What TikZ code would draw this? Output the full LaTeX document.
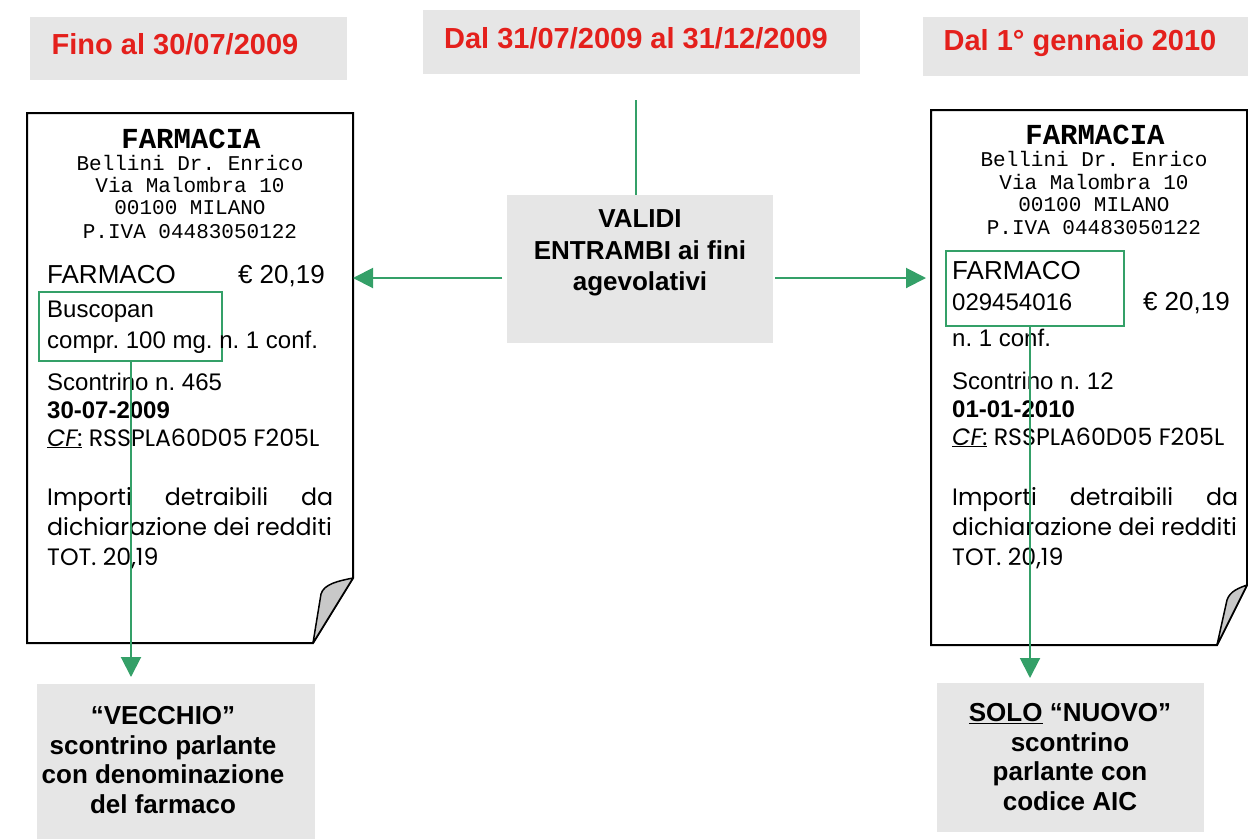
\documentclass[tikz,border=0pt]{standalone}
\usepackage{fontspec}
\setmainfont{Liberation Sans}
\newfontfamily\monof{Liberation Mono}
\newfontfamily\gothf{Poppins}
\usetikzlibrary{arrows.meta}
\definecolor{boxgray}{RGB}{230,230,230}
\definecolor{flapgray}{RGB}{200,200,200}
\definecolor{arrgreen}{RGB}{52,160,104}
\definecolor{hdrred}{RGB}{228,32,28}
\newcommand{\fsz}[2]{\fontsize{#1}{#2}\selectfont}
\frenchspacing
\begin{document}
\begin{tikzpicture}[x=1pt,y=-1pt,
  greybox/.style={fill=boxgray, draw=none, inner sep=0, anchor=north west},
  hdr/.style={font=\fsz{29}{34}\bfseries, text=hdrred, anchor=base, inner sep=0},
  btxt/.style={font=\fsz{26}{29.5}\bfseries, align=center, inner sep=0},
  rt/.style={anchor=base west, inner sep=0, font=\fsz{24}{28}},
  mono/.style={anchor=base, inner sep=0, font=\monof\fsz{21}{24}},
  monob/.style={anchor=base, inner sep=0, font=\monof\bfseries\fsz{29}{32}},
  goth/.style={anchor=base west, inner sep=0, font=\gothf\fsz{23.7}{28}},
  gbox/.style={draw=arrgreen, line width=1.5pt, inner sep=0, anchor=north west},
  gline/.style={draw=arrgreen, line width=2pt},
  garr/.style={draw=arrgreen, line width=2pt, -{Triangle[length=20pt,width=20pt]}, fill=arrgreen},
  sheet/.style={draw=black, line width=2pt, fill=white, line join=miter},
  flap/.style={draw=black, line width=1.5pt, fill=flapgray, line join=round}]
\useasboundingbox (0,0) rectangle (1248,839);

% ---- headers ----
\node[greybox, minimum width=317, minimum height=63] (h1) at (30,17) {};
\node[greybox, minimum width=437, minimum height=64] (h2) at (423,10) {};
\node[greybox, minimum width=325, minimum height=59] (h3) at (923,17) {};
\node[hdr] (h1t) at (175,54) {Fino al 30/07/2009};
\node[hdr] (h2t) at (636,48) {Dal 31/07/2009 al 31/12/2009};
\node[hdr] (h3t) at (1080,50) {Dal 1° gennaio 2010};

% ---- central box ----
\node[greybox, minimum width=266, minimum height=148] (valid) at (507,195) {};
\node[btxt, font=\fsz{26}{31.5}\bfseries] (validt) at (640,253) {VALIDI\\ENTRAMBI ai fini\\agevolativi};
\coordinate (vtop) at (636,100);
\draw[gline] (vtop) -- (vtop |- valid.north);

% ---- left receipt ----
\draw[sheet] (27,113) -- (353,113) -- (353,578) -- (313,643) -- (27,643) -- cycle;
\draw[flap] (313,643) -- (321,594) .. controls (324,584) and (338,581) .. (353,578) -- cycle;
\coordinate (recL) at (353,278);
\node[monob] (l1) at (191,148) {FARMACIA};
\node[mono] (l2) at (190,170) {Bellini Dr. Enrico};
\node[mono] (l3) at (190,192) {Via Malombra 10};
\node[mono] (l4) at (190,214) {00100 MILANO};
\node[mono] (l5) at (190,238) {P.IVA 04483050122};
\node[rt, font=\fsz{26}{30}] (l6) at (47,283) {FARMACO};
\node[rt, font=\fsz{26}{30}, anchor=base east] (l7) at (325,283) {€ 20,19};
\node[gbox, minimum width=183, minimum height=69] (busco) at (38,291) {};
\node[rt] (l8) at (47,317) {Buscopan};
\node[rt] (l9) at (47,348) {compr. 100 mg. n. 1 conf.};
\node[rt] (l10) at (47,390) {Scontrino n. 465};
\node[rt, font=\fsz{24}{28}\bfseries] (l11) at (47,418) {30-07-2009};
\node[goth] (l12) at (47,446) {\underline{{\itshape CF}:} RSSPLA60D05 F205L};
\node[goth] (l13) at (47,505) {\makebox[286pt][s]{Importi\hfill detraibili\hfill da}};
\node[goth] (l14) at (47,535) {dichiarazione dei redditi};
\node[goth] (l15) at (47,565) {TOT. 20,19};

% ---- right receipt ----
\draw[sheet] (931,110) -- (1247,110) -- (1247,585) -- (1217,645) -- (931,645) -- cycle;
\draw[flap] (1217,645) -- (1227,600) .. controls (1230,591) and (1239,588) .. (1247,585) -- cycle;
\coordinate (recR) at (926,278);
\node[monob] (r1) at (1095,144) {FARMACIA};
\node[mono] (r2) at (1094,166) {Bellini Dr. Enrico};
\node[mono] (r3) at (1094,189) {Via Malombra 10};
\node[mono] (r4) at (1094,211) {00100 MILANO};
\node[mono] (r5) at (1094,234) {P.IVA 04483050122};
\node[gbox, minimum width=178, minimum height=75] (aic) at (945,250) {};
\node[rt, font=\fsz{26}{30}] (r6) at (952,279) {FARMACO};
\node[rt] (r7) at (952,310) {029454016};
\node[rt, font=\fsz{26}{30}, anchor=base east] (r8) at (1230,310) {€ 20,19};
\node[rt] (r9) at (952,346) {n. 1 conf.};
\node[rt] (r10) at (952,389) {Scontrino n. 12};
\node[rt, font=\fsz{24}{28}\bfseries] (r11) at (952,417) {01-01-2010};
\node[goth] (r12) at (952,445) {\underline{{\itshape CF}:} RSSPLA60D05 F205L};
\node[goth] (r13) at (952,505) {\makebox[286pt][s]{Importi\hfill detraibili\hfill da}};
\node[goth] (r14) at (952,535) {dichiarazione dei redditi};
\node[goth] (r15) at (952,565) {TOT. 20,19};

% ---- horizontal arrows ----
\draw[garr] ([xshift=-5pt]valid.west |- recL) -- (recL);
\draw[garr] ([xshift=2pt]valid.east |- recR) -- (recR);

% ---- bottom boxes ----
\node[greybox, minimum width=278, minimum height=155] (old) at (37,684) {};
\node[btxt] (oldt) at (163,760) {“VECCHIO”\\scontrino parlante\\con denominazione\\del farmaco};
\node[greybox, minimum width=267, minimum height=149] (new) at (937,683) {};
\node[btxt] (newt) at (1070,757) {\underline{SOLO} “NUOVO”\\scontrino\\parlante con\\codice AIC};

% ---- vertical arrows ----
\coordinate (dL) at (131,677);
\coordinate (dR) at (1030,678);
\draw[garr] (busco.south -| dL) -- (dL);
\draw[garr] (aic.south -| dR) -- (dR);
\end{tikzpicture}
\end{document}
